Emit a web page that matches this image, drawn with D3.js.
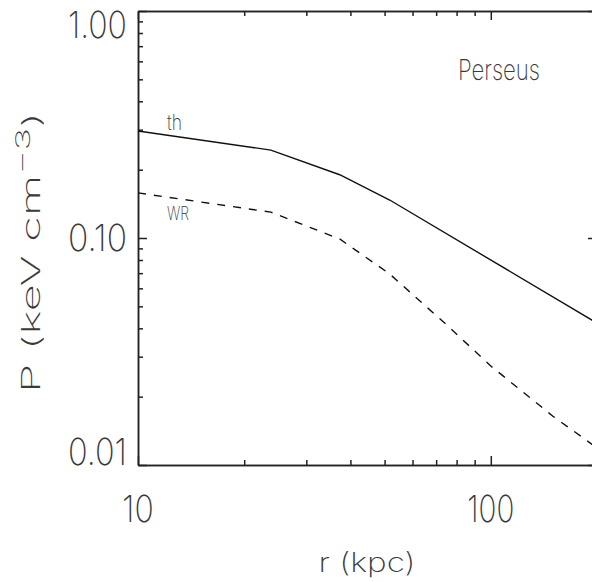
<!DOCTYPE html>
<html>
<head>
<meta charset="utf-8">
<script src="https://cdn.jsdelivr.net/npm/d3@7"></script>
<style>
  html, body { margin: 0; padding: 0; background: #fff; }
  svg { display: block; }
  text { font-family: Inter, Roboto, "DejaVu Sans", sans-serif; font-weight: 200; fill: #3a3a3a; }
</style>
</head>
<body>
<svg id="chart" width="592" height="582"></svg>
<script>
// ---- data ----
const radiusKpc = [10, 23.8, 37.3, 51.7, 200];
const thermalP = [0.296, 0.244, 0.190, 0.147, 0.0422];
const wrRadiusKpc = [10, 23.8, 37.3, 51.7, 75, 100, 150, 200];
const wrP = [0.158, 0.130, 0.099, 0.0694, 0.0414, 0.0273, 0.0164, 0.0119];
const xDomain = [10, 200];
const yDomain = [0.01, 1];
const xMajor = [10, 100];
const xMinor = [20, 30, 40, 50, 60, 70, 80, 90, 200];
const yMajor = [0.01, 0.1, 1];
const yMinor = [0.02, 0.03, 0.04, 0.05, 0.06, 0.07, 0.08, 0.09, 0.2, 0.3, 0.4, 0.5, 0.6, 0.7, 0.8, 0.9];
const xTickLabels = ["10", "100"];
const yTickLabels = ["0.01", "0.10", "1.00"];
const seriesLabels = ["th", "WR"];
const clusterName = "Perseus";

// ---- layout ----
const L = 138, R = 597, T = 11, B = 465;
const svg = d3.select("#chart");
const x = d3.scaleLog().domain(xDomain).range([L, R]);
const y = d3.scaleLog().domain(yDomain).range([B, T]);
const axisColor = "#222", axisW = 1.5, majLen = 9, minLen = 5;

function drawAxis(gen, transform) {
  const g = svg.append("g").attr("transform", transform).call(gen);
  g.selectAll("text").remove();
  g.selectAll("path, line").attr("stroke", axisColor).attr("stroke-width", axisW);
  return g;
}
// bottom/top
drawAxis(d3.axisBottom(x).tickValues(xMajor).tickSize(-majLen).tickSizeOuter(0), `translate(0,${B})`);
drawAxis(d3.axisBottom(x).tickValues(xMinor).tickSize(-minLen).tickSizeOuter(0), `translate(0,${B})`);
drawAxis(d3.axisTop(x).tickValues(xMajor).tickSize(-majLen).tickSizeOuter(0), `translate(0,${T})`);
drawAxis(d3.axisTop(x).tickValues(xMinor).tickSize(-minLen).tickSizeOuter(0), `translate(0,${T})`);
// left/right
drawAxis(d3.axisLeft(y).tickValues(yMajor).tickSize(-majLen).tickSizeOuter(0), `translate(${L},0)`);
drawAxis(d3.axisLeft(y).tickValues(yMinor).tickSize(-minLen).tickSizeOuter(0), `translate(${L},0)`);
drawAxis(d3.axisRight(y).tickValues(yMajor).tickSize(-majLen).tickSizeOuter(0), `translate(${R},0)`);
drawAxis(d3.axisRight(y).tickValues(yMinor).tickSize(-minLen).tickSizeOuter(0), `translate(${R},0)`);

// condensed text helper
function condense(sel, width) {
  sel.attr("textLength", width).attr("lengthAdjust", "spacingAndGlyphs");
}

// tick labels
yMajor.forEach((v, i) => {
  const c = Math.max(T + 13.5, Math.min(B - 13.5, y(v)));
  const t = svg.append("text").attr("x", 127).attr("y", c + 13)
    .attr("text-anchor", "end").attr("font-size", 37).text(yTickLabels[i]);
  condense(t, 59);
});
xMajor.forEach((v, i) => {
  const t = svg.append("text").attr("x", x(v)).attr("y", 522)
    .attr("text-anchor", "middle").attr("font-size", 37).text(xTickLabels[i]);
  condense(t, xTickLabels[i].length * 15.7);
});

// axis titles
const xt = svg.append("text").attr("x", (L + R) / 2 - 0.5).attr("y", 572)
  .attr("text-anchor", "middle").attr("font-size", 27).text("r (kpc)");
condense(xt, 97);

const yt = svg.append("text").attr("transform", "translate(40,252.5) rotate(-90)")
  .attr("text-anchor", "middle").attr("font-size", 25);
yt.append("tspan").text("P (keV cm");
yt.append("tspan").attr("dy", -10).attr("font-size", 20).text("−3");
yt.append("tspan").attr("dy", 10).text(")");
condense(yt, 281);

// lines
const line = d3.line().x(d => x(d[0])).y(d => y(d[1]));
svg.append("path").datum(radiusKpc.map((r, i) => [r, thermalP[i]]))
  .attr("d", line).attr("fill", "none").attr("stroke", "#111").attr("stroke-width", 1.4);
svg.append("path").datum(wrRadiusKpc.map((r, i) => [r, wrP[i]]))
  .attr("d", line).attr("fill", "none").attr("stroke", "#111").attr("stroke-width", 1.4)
  .attr("stroke-dasharray", "8,8");

// series labels
condense(svg.append("text").attr("x", 167).attr("y", 130).attr("font-size", 21).text(seriesLabels[0]), 15);
condense(svg.append("text").attr("x", 167).attr("y", 220).attr("font-size", 18).text(seriesLabels[1]), 22);
condense(svg.append("text").attr("x", 458).attr("y", 80).attr("font-size", 28).text(clusterName), 82);
</script>
</body>
</html>
